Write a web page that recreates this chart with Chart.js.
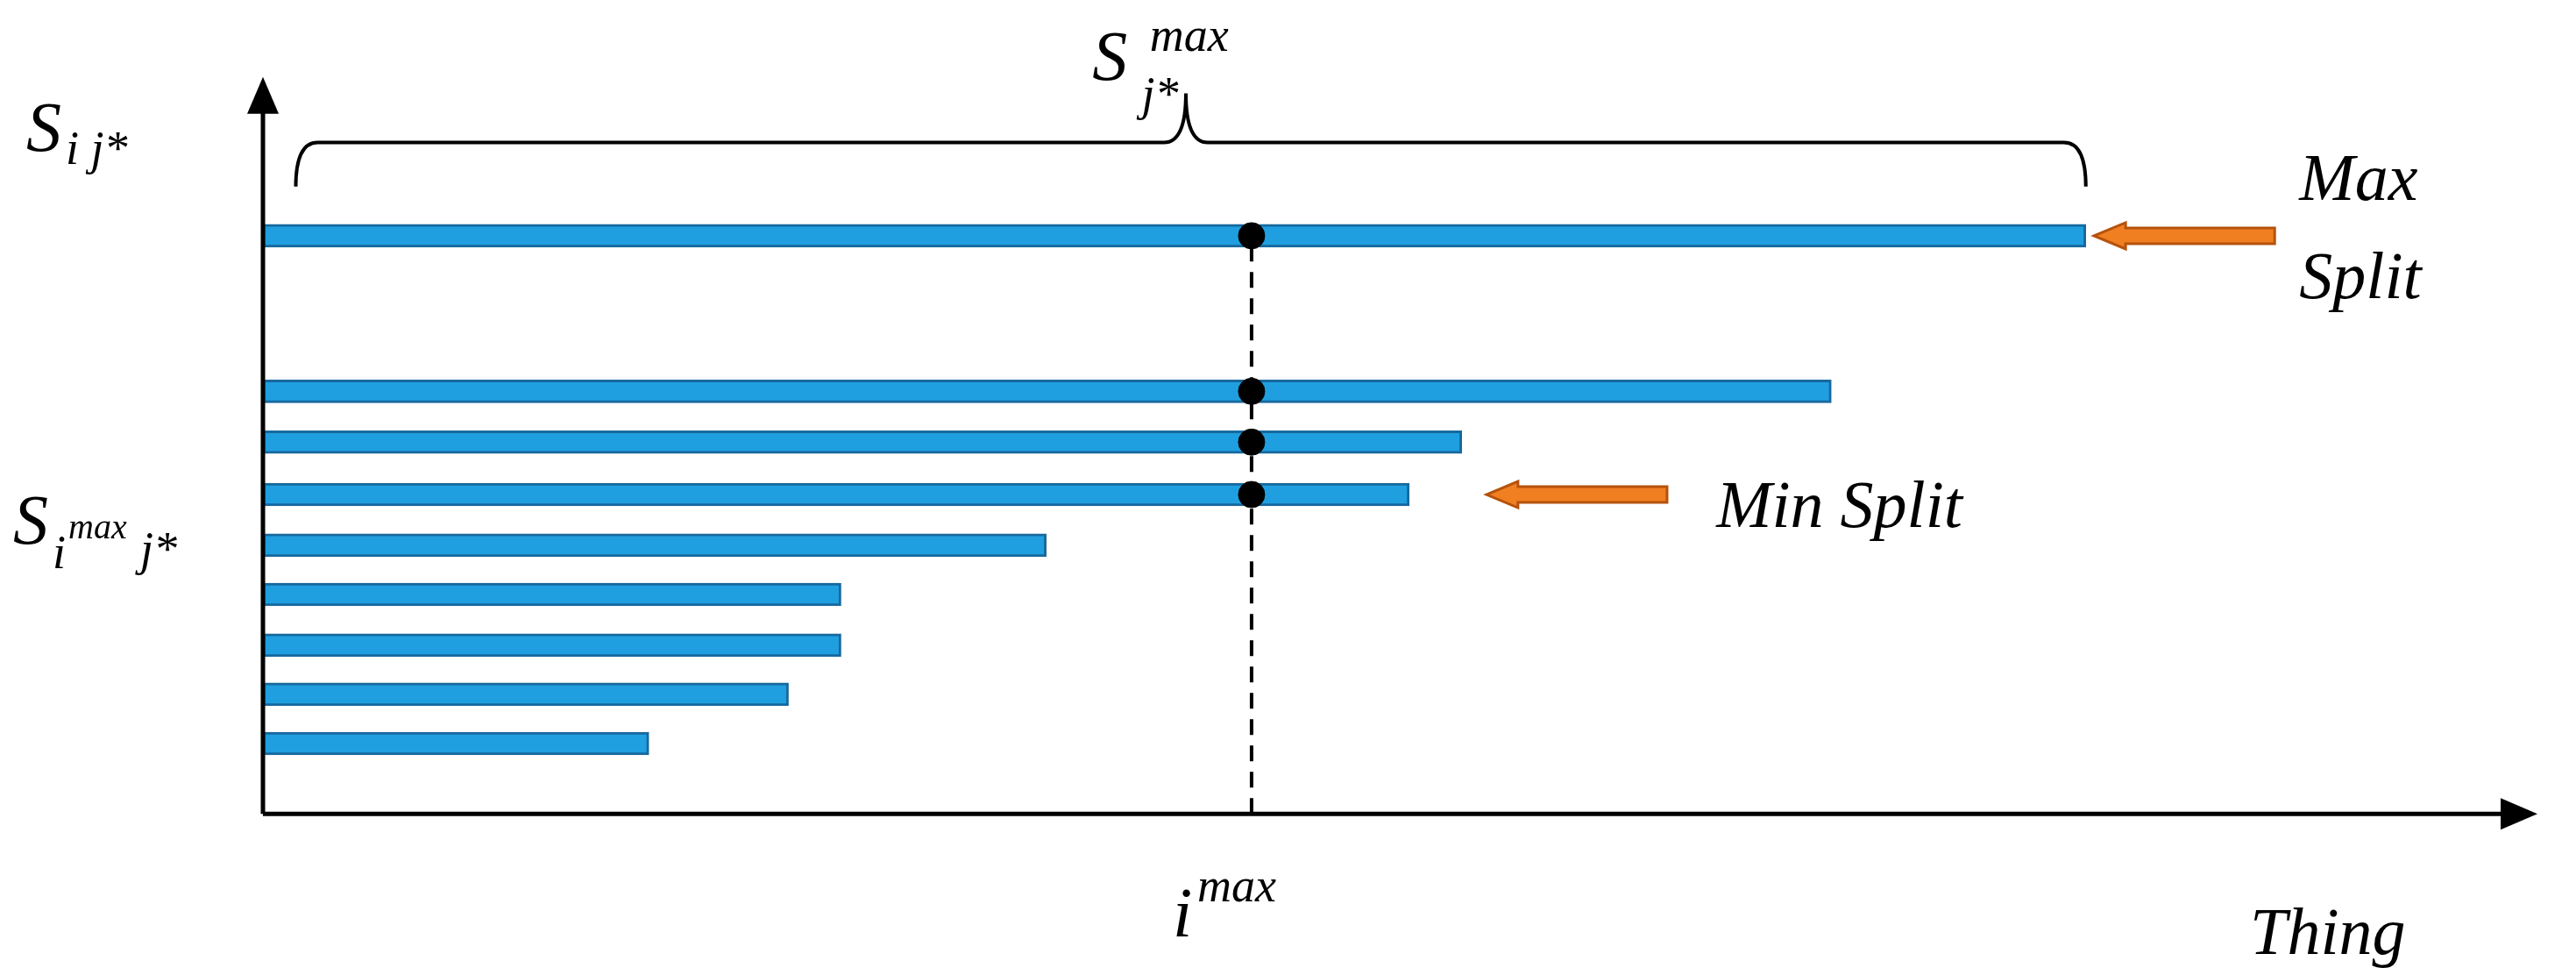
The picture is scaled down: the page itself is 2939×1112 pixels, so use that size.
<!DOCTYPE html>
<html>
<head>
<meta charset="utf-8">
<script src="https://cdn.jsdelivr.net/npm/chart.js@4.4.0/dist/chart.umd.min.js"></script>
<style>
  html, body { margin: 0; padding: 0; background: #fff; }
  #wrap { width: 2939px; height: 1112px; }
</style>
</head>
<body>
<div id="wrap"><canvas id="splits"></canvas></div>
<script>
// bar lengths along "Thing" and their vertical positions (axis units)
const barLengths = [1110, 955, 730, 698, 477, 352, 352, 320, 235]
const barLevels = [353, 258, 227, 195, 164, 134, 103, 73, 43]
const iMax = 602
const dotLevels = [353, 258, 227, 195]
const xMax = 1385
const yMax = 450

const serif = '"Liberation Serif", "DejaVu Serif", serif'

const overlay = {
    id: 'overlay',
    afterDraw(chart) {
        const c = chart.ctx
        const X = v => chart.scales.x.getPixelForValue(v)
        const Y = v => chart.scales.y.getPixelForValue(v)
        const x0 = X(0), y0 = Y(0)
        c.save()
        // axes with arrows
        c.strokeStyle = '#000'
        c.fillStyle = '#000'
        c.lineWidth = 5
        c.beginPath()
        c.moveTo(x0, y0); c.lineTo(X(xMax) - 30, y0)
        c.moveTo(x0, y0); c.lineTo(x0, Y(yMax) + 30)
        c.stroke()
        c.beginPath()
        c.moveTo(X(xMax), y0); c.lineTo(X(xMax) - 42, y0 - 18); c.lineTo(X(xMax) - 42, y0 + 18)
        c.closePath(); c.fill()
        c.beginPath()
        c.moveTo(x0, Y(yMax)); c.lineTo(x0 - 18, Y(yMax) + 42); c.lineTo(x0 + 18, Y(yMax) + 42)
        c.closePath(); c.fill()

        // brace over the max split
        const bl = X(20), br = X(1110), bm = X(562)
        const bTop = Y(410), bEnd = Y(383), bTip = Y(440)
        c.lineWidth = 4
        c.beginPath()
        c.moveTo(bl, bEnd)
        c.quadraticCurveTo(bl, bTop, bl + 25, bTop)
        c.lineTo(bm - 25, bTop)
        c.quadraticCurveTo(bm, bTop, bm, bTip)
        c.quadraticCurveTo(bm, bTop, bm + 25, bTop)
        c.lineTo(br - 25, bTop)
        c.quadraticCurveTo(br, bTop, br, bEnd)
        c.stroke()

        // orange arrows
        const arrow = (xs, xe, yv) => {
            const y = Y(yv)
            c.fillStyle = '#f07f22'
            c.strokeStyle = '#b5520c'
            c.lineWidth = 3
            c.beginPath()
            c.moveTo(xe, y)
            c.lineTo(xe + 36, y - 15)
            c.lineTo(xe + 36, y - 9)
            c.lineTo(xs, y - 9)
            c.lineTo(xs, y + 9)
            c.lineTo(xe + 36, y + 9)
            c.lineTo(xe + 36, y + 15)
            c.closePath()
            c.fill(); c.stroke()
        }
        arrow(X(1225), X(1115), 353)
        arrow(X(855), X(745), 195)

        // labels
        c.fillStyle = '#000'
        c.textBaseline = 'alphabetic'
        const txt = (s, x, y, size, align) => {
            c.font = 'italic ' + size + 'px ' + serif
            c.textAlign = align || 'left'
            c.fillText(s, x, y)
        }
        txt('Max', X(1240), Y(375), 76)
        txt('Split', X(1240), Y(315), 76)
        txt('Min Split', X(885), Y(175), 76)
        txt('Thing', X(1210), y0 + 160, 76)
        txt('i', X(iMax) - 90, y0 + 140, 80)
        txt('max', X(iMax) - 62, y0 + 100, 54)
        txt('S', x0 - 270, Y(405), 80)
        txt('i j*', x0 - 225, Y(397), 54)
        txt('S', x0 - 285, Y(165), 80)
        txt('i', x0 - 240, Y(150), 54)
        txt('max', x0 - 222, Y(168), 40)
        txt('j*', x0 - 140, Y(152), 54)
        txt('S', X(505), Y(448), 80)
        txt('j*', X(535), Y(430), 54)
        txt('max', X(540), Y(466), 54)
        c.restore()
    }
}

const ctx = document.getElementById('splits').getContext('2d')
const splitsChart = new Chart(ctx, {
    data: {
        datasets: [
            {
                type: 'bar',
                data: barLengths.map((v, i) => ({ x: v, y: barLevels[i] })),
                backgroundColor: '#1f9fe0',
                borderColor: '#17699e',
                borderWidth: 3,
                borderSkipped: false,
                barThickness: 26,
                order: 3
            },
            {
                type: 'line',
                data: [{ x: iMax, y: 0 }, { x: iMax, y: 353 }],
                borderColor: '#000',
                borderWidth: 4,
                borderDash: [18, 12],
                pointRadius: 0,
                order: 2
            },
            {
                type: 'scatter',
                data: dotLevels.map(v => ({ x: iMax, y: v })),
                backgroundColor: '#000',
                borderColor: '#000',
                pointRadius: 15,
                order: 1
            }
        ]
    },
    options: {
        indexAxis: 'y',
        responsive: true,
        maintainAspectRatio: false,
        animation: false,
        layout: { padding: { left: 300, right: 44, top: 41, bottom: 137 } },
        plugins: { legend: { display: false }, tooltip: { enabled: false } },
        scales: {
            x: { type: 'linear', min: 0, max: xMax, display: false },
            y: { type: 'linear', min: 0, max: yMax, display: false }
        }
    },
    plugins: [overlay]
})
</script>
</body>
</html>
